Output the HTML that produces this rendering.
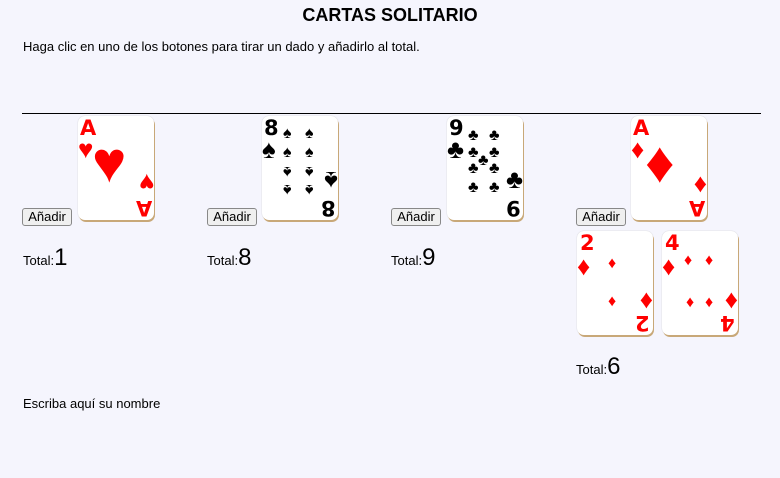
<!DOCTYPE html>
<html><head><meta charset="utf-8"><style>
body{margin:0;width:780px;height:478px;background:#f5f5fd;font-family:"Liberation Sans",sans-serif;position:relative;overflow:hidden;color:#000}
.a{position:absolute}
h1{position:absolute;top:5px;left:0;width:780px;margin:0;text-align:center;font-size:18px;font-weight:bold}
.card{position:absolute;width:76px;height:104px;background:#fff;border-radius:7px;box-shadow:1px 2px 0 #c8a878, 0 0 1px #bbb;overflow:hidden}
.card span{position:absolute;line-height:1;font-weight:bold}
.r{color:#f00}.k{color:#000}
.btn{position:absolute;width:50px;height:18px;font-size:13px;font-family:"Liberation Sans",sans-serif;background:#efefef;border:1px solid #888;border-radius:3px;padding:0;line-height:16px;text-align:center}
.tot{position:absolute;font-size:13px}
.tot b{font-size:24px;font-weight:normal}
.rank{font-size:21px;font-family:"DejaVu Sans",sans-serif}
.flip{transform:rotate(180deg)}
.p{font-size:16px}
.c{font-size:26px}
</style></head><body>
<h1>CARTAS SOLITARIO</h1>
<div class="a" style="left:23px;top:39px;font-size:13px">Haga clic en uno de los botones para tirar un dado y añadirlo al total.</div>
<div class="a" style="left:22px;top:113px;width:739px;height:1px;background:#000"></div>

<button class="btn" style="left:22px;top:208px">Añadir</button>
<div class="card r" style="left:78px;top:116px">
<span class="rank" style="left:2px;top:2px">A</span><span class="c" style="left:0px;top:20px">♥</span>
<span style="left:14px;top:18px;font-size:58px">♥</span>
<span class="c flip" style="right:0px;top:54px">♥</span><span class="rank flip" style="right:2px;bottom:2px">A</span></div>
<div class="tot" style="left:23px;top:244px">Total:<b>1</b></div>

<button class="btn" style="left:207px;top:208px">Añadir</button>
<div class="card k" style="left:262px;top:116px">
<span class="rank" style="left:2px;top:2px">8</span><span class="c" style="left:0px;top:20px">♠</span>
<span class="p" style="left:21px;top:10px">♠</span><span class="p" style="left:43px;top:10px">♠</span>
<span class="p" style="left:21px;top:29px">♠</span><span class="p" style="left:43px;top:29px">♠</span>
<span class="p flip" style="left:21px;top:47px">♠</span><span class="p flip" style="left:43px;top:47px">♠</span>
<span class="p flip" style="left:21px;top:65px">♠</span><span class="p flip" style="left:43px;top:65px">♠</span>
<span class="c flip" style="right:0px;top:52px">♠</span><span class="rank flip" style="right:2px;bottom:2px">8</span></div>
<div class="tot" style="left:207px;top:244px">Total:<b>8</b></div>

<button class="btn" style="left:391px;top:208px">Añadir</button>
<div class="card k" style="left:447px;top:116px">
<span class="rank" style="left:2px;top:2px">9</span><span class="c" style="left:0px;top:20px">♣</span>
<span class="p" style="left:21px;top:12px">♣</span><span class="p" style="left:42px;top:12px">♣</span>
<span class="p" style="left:21px;top:29px">♣</span><span class="p" style="left:42px;top:29px">♣</span>
<span class="p" style="left:31px;top:37px">♣</span>
<span class="p" style="left:21px;top:45px">♣</span><span class="p" style="left:42px;top:45px">♣</span>
<span class="p" style="left:21px;top:64px">♣</span><span class="p" style="left:42px;top:64px">♣</span>
<span class="c" style="right:0px;top:50px">♣</span><span class="rank flip" style="right:2px;bottom:2px">9</span></div>
<div class="tot" style="left:391px;top:244px">Total:<b>9</b></div>

<button class="btn" style="left:576px;top:208px">Añadir</button>
<div class="card r" style="left:631px;top:116px">
<span class="rank" style="left:2px;top:2px">A</span><span class="c" style="left:0px;top:20px">♦</span>
<span style="left:14px;top:18px;font-size:58px">♦</span>
<span class="c" style="right:0px;top:54px">♦</span><span class="rank flip" style="right:2px;bottom:2px">A</span></div>
<div class="card r" style="left:577px;top:231px">
<span class="rank" style="left:3px;top:2px">2</span><span class="c" style="left:0px;top:22px">♦</span>
<span class="p" style="left:31px;top:25px">♦</span><span class="p" style="left:31px;top:63px">♦</span>
<span class="c" style="right:0px;top:55px">♦</span><span class="rank flip" style="right:3px;bottom:2px">2</span></div>
<div class="card r" style="left:662px;top:231px">
<span class="rank" style="left:3px;top:2px">4</span><span class="c" style="left:0px;top:22px">♦</span>
<span class="p" style="left:22px;top:22px">♦</span><span class="p" style="left:43px;top:22px">♦</span>
<span class="p" style="left:24px;top:64px">♦</span><span class="p" style="left:43px;top:64px">♦</span>
<span class="c" style="right:0px;top:55px">♦</span><span class="rank flip" style="right:3px;bottom:2px">4</span></div>
<div class="tot" style="left:576px;top:353px">Total:<b>6</b></div>

<div class="a" style="left:23px;top:396px;font-size:13px">Escriba aquí su nombre</div>
</body></html>
